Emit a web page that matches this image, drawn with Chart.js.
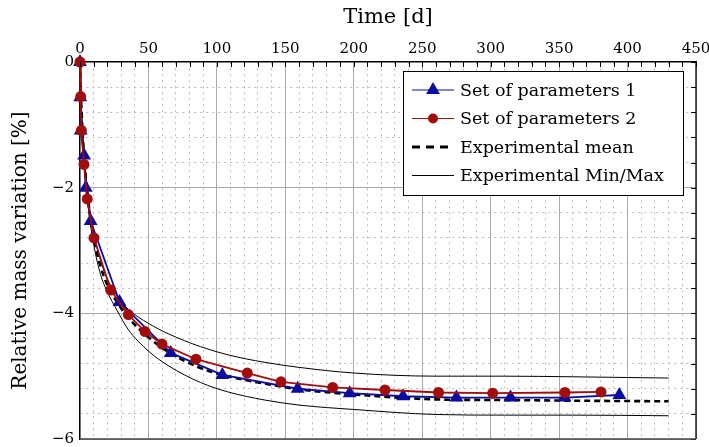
<!DOCTYPE html>
<html>
<head>
<meta charset="utf-8">
<script src="https://cdn.jsdelivr.net/npm/chart.js@4.4.0/dist/chart.umd.min.js"></script>
<style>
  html, body { margin: 0; padding: 0; background: #fff; }
</style>
</head>
<body>
<canvas id="chart" width="709" height="447"></canvas>
<script>
// Simulated runs (markers every few days)
const days1 = [0, 0.2, 0.5, 3, 4.2, 7.8, 28.9, 66.3, 104, 159, 197, 236, 275, 314.5, 354, 394];
const set1 = [0, -0.56, -1.09, -1.49, -2.0, -2.53, -3.82, -4.63, -4.98, -5.2, -5.27, -5.32, -5.34, -5.34, -5.34, -5.3];

const days2 = [0, 0.5, 1, 2.9, 5.3, 10.2, 22.4, 35.3, 47.5, 59.9, 84.7, 122.2, 146.8, 184.6, 222.8, 261.9, 301.5, 354.3, 380.6];
const set2 = [0, -0.55, -1.09, -1.63, -2.18, -2.8, -3.63, -4.02, -4.29, -4.49, -4.73, -4.95, -5.09, -5.18, -5.22, -5.26, -5.27, -5.26, -5.25];

// Measurements
const expDays = [0, 1, 3, 6, 10, 15, 20, 27, 35, 50, 65, 88, 108, 135, 160, 200, 260, 310, 360, 430];
const expMean = [0, -0.7, -1.5, -2.2, -2.8, -3.25, -3.55, -3.82, -4.06, -4.38, -4.62, -4.87, -5.0, -5.12, -5.21, -5.29, -5.37, -5.38, -5.39, -5.4];
const expMax = [0, -0.65, -1.45, -2.15, -2.7, -3.15, -3.45, -3.72, -3.93, -4.16, -4.33, -4.53, -4.66, -4.78, -4.86, -4.95, -5.0, -5.0, -5.01, -5.03];
const expMin = [0, -0.75, -1.55, -2.3, -2.9, -3.38, -3.66, -3.95, -4.25, -4.6, -4.84, -5.1, -5.25, -5.38, -5.46, -5.53, -5.61, -5.62, -5.62, -5.63];

const labels = ["Set of parameters 1", "Set of parameters 2", "Experimental mean", "Experimental Min/Max"];

// ticks: every 10 d / 0.4 %, labelled every 50 d / 2 %
const xTicks = [];
for (let i = 0; i <= 45; i++) xTicks.push(i * 10);
const yTicks = [];
for (let i = 0; i <= 15; i++) yTicks.push(Math.round((-6 + i * 0.4) * 10) / 10);

const FONT = "'DejaVu Serif', serif";
const BLUE = "#0c0c9e";
const RED = "#a10d0d";

function pts(xs, ys){
  return xs.map((x, i) => ({x: x, y: ys[i]}));
}

function isMajorX(v){ return v % 50 === 0; }
function isMajorY(v){ return Math.abs(v / 2 - Math.round(v / 2)) < 1e-6; }

function fmt(v){
  if(v === 0) return "0";
  return v < 0 ? "\u2212" + Math.abs(v) : String(v);
}

// short inward ticks on top/right plus the right and bottom edges
const framePlugin = {
  id: "frame",
  afterDatasetsDraw(chart){
    let {ctx, chartArea: a, scales} = chart;
    ctx.save();
    ctx.lineWidth = 1;
    ctx.strokeStyle = "#000";
    ctx.beginPath();
    for(let v of xTicks){
      let px = Math.round(scales.x.getPixelForValue(v)) + 0.5;
      ctx.moveTo(px, a.top);
      ctx.lineTo(px, a.top + 5);
    }
    for(let v of yTicks){
      let py = Math.round(scales.y.getPixelForValue(v)) + 0.5;
      ctx.moveTo(a.right, py);
      ctx.lineTo(a.right - 5, py);
    }
    ctx.stroke();
    ctx.lineWidth = 1.3;
    ctx.beginPath();
    ctx.moveTo(a.right, a.top);
    ctx.lineTo(a.right, a.bottom);
    ctx.stroke();
    ctx.strokeStyle = "#444";
    ctx.beginPath();
    ctx.moveTo(a.left, a.bottom);
    ctx.lineTo(a.right, a.bottom);
    ctx.stroke();
    ctx.restore();
  }
};

function drawMarker(ctx, style, x, y, r, color){
  ctx.fillStyle = color;
  ctx.beginPath();
  if(style === "triangle"){
    ctx.moveTo(x, y - r);
    ctx.lineTo(x + r * 0.866, y + r / 2);
    ctx.lineTo(x - r * 0.866, y + r / 2);
    ctx.closePath();
  }else{
    ctx.arc(x, y, r, 0, Math.PI * 2);
  }
  ctx.fill();
}

// boxed legend in the upper right of the plot
const legendPlugin = {
  id: "legendBox",
  afterDraw(chart){
    let {ctx, chartArea: a} = chart;
    let left = a.right - 293, top = a.top + 9, w = 280, h = 124;
    ctx.save();
    ctx.fillStyle = "#fff";
    ctx.fillRect(left, top, w, h);
    ctx.strokeStyle = "#000";
    ctx.lineWidth = 1;
    ctx.strokeRect(left + 0.5, top + 0.5, w, h);

    let rows = [
      {color: BLUE, width: 1.2, dash: [], marker: "triangle", r: 8},
      {color: RED, width: 1.2, dash: [], marker: "circle", r: 5},
      {color: "#000", width: 3, dash: [8, 6], marker: null},
      {color: "#000", width: 1.2, dash: [], marker: null}
    ];
    ctx.font = "17.5px " + FONT;
    ctx.textBaseline = "middle";
    rows.forEach((row, i) => {
      let cy = top + 19 + i * 28.5;
      let x0 = left + 9, x1 = left + 51;
      ctx.strokeStyle = row.color;
      ctx.lineWidth = row.width;
      ctx.setLineDash(row.dash);
      ctx.beginPath();
      ctx.moveTo(x0, cy);
      ctx.lineTo(x1, cy);
      ctx.stroke();
      ctx.setLineDash([]);
      if(row.marker) drawMarker(ctx, row.marker, (x0 + x1) / 2, cy, row.r, row.color);
      ctx.fillStyle = "#000";
      ctx.fillText(labels[i], left + 57, cy + 1);
    });
    ctx.restore();
  }
};

let ctx = document.querySelector("#chart").getContext("2d");

let chart = new Chart(ctx, {
  type: "line",
  data: {
    datasets: [
      {
        label: labels[0],
        data: pts(days1, set1),
        borderColor: BLUE,
        backgroundColor: BLUE,
        borderWidth: 1.8,
        pointStyle: "triangle",
        pointRadius: 8,
        pointBorderWidth: 0,
        order: 1,
        clip: false
      },
      {
        label: labels[1],
        data: pts(days2, set2),
        borderColor: RED,
        backgroundColor: RED,
        borderWidth: 1.8,
        pointStyle: "circle",
        pointRadius: 5.5,
        pointBorderWidth: 0,
        order: 0,
        clip: false
      },
      {
        label: labels[2],
        data: pts(expDays, expMean),
        borderColor: "#000",
        borderWidth: 2.6,
        borderDash: [6, 4],
        pointRadius: 0,
        cubicInterpolationMode: "monotone",
        order: 2
      },
      {
        label: labels[3],
        data: pts(expDays, expMax),
        borderColor: "#000",
        borderWidth: 1,
        pointRadius: 0,
        cubicInterpolationMode: "monotone",
        order: 3
      },
      {
        label: labels[3],
        data: pts(expDays, expMin),
        borderColor: "#000",
        borderWidth: 1,
        pointRadius: 0,
        cubicInterpolationMode: "monotone",
        order: 3
      }
    ]
  },
  options: {
    responsive: false,
    animation: false,
    layout: { padding: { left: 0, top: 0, right: 13, bottom: 8 } },
    plugins: {
      legend: { display: false },
      tooltip: { enabled: false }
    },
    scales: {
      x: {
        type: "linear",
        position: "top",
        min: 0,
        max: 450,
        afterBuildTicks: s => { s.ticks = xTicks.map(v => ({value: v})); },
        afterFit: s => {
          s.height = 62;
          s.paddingLeft = 0;
          s.paddingRight = 0;
        },
        ticks: {
          autoSkip: false,
          maxRotation: 0,
          padding: 4,
          color: "#000",
          font: { family: FONT, size: 15 },
          callback: v => isMajorX(v) ? fmt(v) : ""
        },
        grid: {
          drawTicks: false,
          lineWidth: 1,
          color: c => isMajorX(c.tick.value) ? "#a9a9a9" : "#bcbcbc"
        },
        border: {
          color: "#000",
          width: 1.3,
          dash: c => (c.tick && !isMajorX(c.tick.value)) ? [2, 4] : []
        },
        title: {
          display: true,
          text: "Time [d]",
          color: "#000",
          font: { family: FONT, size: 21 },
          padding: { top: 5, bottom: 6 }
        }
      },
      y: {
        type: "linear",
        min: -6,
        max: 0,
        afterBuildTicks: s => { s.ticks = yTicks.map(v => ({value: v})); },
        afterFit: s => {
          s.width = 80;
          s.paddingTop = 0;
          s.paddingBottom = 0;
        },
        ticks: {
          autoSkip: false,
          padding: 6,
          color: "#000",
          font: { family: FONT, size: 15 },
          callback: v => isMajorY(v) ? fmt(v) : ""
        },
        grid: {
          drawTicks: false,
          lineWidth: 1,
          color: c => isMajorY(c.tick.value) ? "#a9a9a9" : "#bcbcbc"
        },
        border: {
          color: "#000",
          width: 1.3,
          dash: c => (c.tick && !isMajorY(c.tick.value)) ? [2, 4] : []
        },
        title: {
          display: true,
          text: "Relative mass variation [%]",
          color: "#000",
          font: { family: FONT, size: 20 },
          padding: { top: 9, bottom: 4 }
        }
      }
    }
  },
  plugins: [framePlugin, legendPlugin]
});
</script>
</body>
</html>
